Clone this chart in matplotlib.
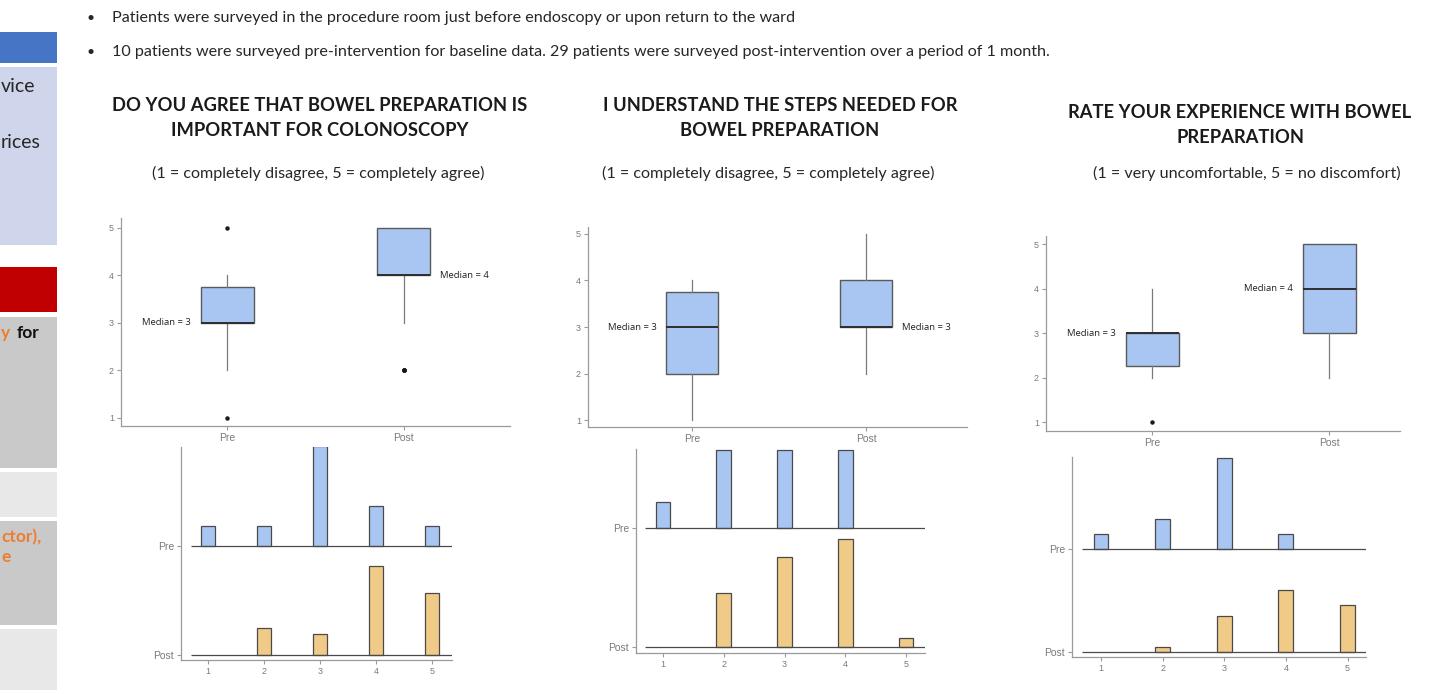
import matplotlib

matplotlib.use("Agg")
import matplotlib.pyplot as plt
import numpy as np
from matplotlib.patches import Rectangle

W, H = 1430, 694

# Likert levels and response counts (Pre n=10, Post n=29)
LEVELS = [1, 2, 3, 4, 5]
GROUPS = ["Pre", "Post"]

IMPORTANCE_PRE = [1, 1, 5, 2, 1]
IMPORTANCE_POST = [0, 4, 3, 13, 9]
UNDERSTAND_PRE = [1, 3, 3, 3, 0]
UNDERSTAND_POST = [0, 6, 10, 12, 1]
EXPERIENCE_PRE = [1, 2, 6, 1, 0]
EXPERIENCE_POST = [0, 1, 7, 12, 9]

TITLES = [
    "DO YOU AGREE THAT BOWEL PREPARATION IS\nIMPORTANT FOR COLONOSCOPY",
    "I UNDERSTAND THE STEPS NEEDED FOR\nBOWEL PREPARATION",
    "RATE YOUR EXPERIENCE WITH BOWEL\nPREPARATION",
]
SUBTITLES = [
    "(1 = completely disagree, 5 = completely agree)",
    "(1 = completely disagree, 5 = completely agree)",
    "(1 = very uncomfortable, 5 = no discomfort)",
]
BULLETS = [
    "Patients were surveyed in the procedure room just before endoscopy or upon return to the ward",
    "10 patients were surveyed pre-intervention for baseline data. 29 patients were surveyed post-intervention over a period of 1 month.",
]

BLUE = "#a9c5f1"
ORANGE = "#f0cb88"
EDGE = "#4a4a4a"
AXIS = "#9a9a9a"
TICK = "#7a7a7a"
INK = "#262626"
SLIDE_FONT = "Lato"
PLOT_FONT = "Liberation Sans"

fig = plt.figure(figsize=(W / 100, H / 100), dpi=100, facecolor="white")


def px_axes(left, top, right, bottom):
    return fig.add_axes([left / W, 1 - bottom / H, (right - left) / W, (bottom - top) / H])


def px_text(x, y, s, **kw):
    kw.setdefault("family", SLIDE_FONT)
    kw.setdefault("color", INK)
    return fig.text(x / W, 1 - y / H, s, **kw)


def style_axes(ax):
    for side in ("top", "right"):
        ax.spines[side].set_visible(False)
    for side in ("left", "bottom"):
        ax.spines[side].set_color(AXIS)
        ax.spines[side].set_linewidth(0.9)
    ax.tick_params(colors=AXIS, labelcolor=TICK, length=3, width=0.8, labelsize=6.5, pad=2)
    for lab in ax.get_xticklabels() + ax.get_yticklabels():
        lab.set_family(PLOT_FONT)


# ---- cropped slide side panel ----
side_boxes = [
    (32, 63, "#4675c6"),
    (67, 245, "#cfd5ea"),
    (267, 312, "#c00000"),
    (317, 468, "#c9c9c9"),
    (472, 517, "#e8e8e8"),
    (521, 625, "#c9c9c9"),
    (629, 690, "#e8e8e8"),
]
for top, bottom, color in side_boxes:
    fig.patches.append(Rectangle((0, 1 - bottom / H), 57 / W, (bottom - top) / H,
                                 transform=fig.transFigure, facecolor=color, edgecolor="none"))
px_text(1, 87, "vice", fontsize=14, va="center")
px_text(1, 143, "rices", fontsize=14, va="center")
px_text(1, 333, "y", fontsize=12.5, weight="bold", color="#ed7d31", va="center")
px_text(17, 333, "for", fontsize=12.5, weight="bold", color="#111111", va="center")
px_text(1, 537, "ctor),", fontsize=12.5, weight="bold", color="#ed7d31", va="center")
px_text(1, 557, "e", fontsize=12.5, weight="bold", color="#ed7d31", va="center")

# ---- bullets ----
for y, line in zip([18, 52], BULLETS):
    px_text(86, y, "\u2022", fontsize=10, va="center")
    px_text(112, y, line, fontsize=11.6, va="center")

# ---- layout of the three panels (pixel boxes) ----
panels = [
    dict(title_xy=(320, 118), sub_xy=(318, 173),
         box=(121, 218, 510, 426), box_xlim=(0.4, 2.6), box_ylim=(0.83, 5.21),
         hist=(181, 447, 452, 660), hist_xlim=(0.52, 5.36), hist_ylim=(0.954, 2.91),
         scale=1.83, label_side=("left", "right"),
         pre=IMPORTANCE_PRE, post=IMPORTANCE_POST),
    dict(title_xy=(780, 118), sub_xy=(768, 173),
         box=(588, 227, 967, 427), box_xlim=(0.4, 2.58), box_ylim=(0.85, 5.15),
         hist=(636, 449, 925, 653), hist_xlim=(0.556, 5.31), hist_ylim=(0.95, 2.66),
         scale=2.18, label_side=("left", "right"),
         pre=UNDERSTAND_PRE, post=UNDERSTAND_POST),
    dict(title_xy=(1240, 125), sub_xy=(1247, 173),
         box=(1046, 236, 1400, 431), box_xlim=(0.4, 2.4), box_ylim=(0.80, 5.18),
         hist=(1072, 457, 1366, 657), hist_xlim=(0.53, 5.3), hist_ylim=(0.95, 2.89),
         scale=1.46, label_side=("left", "left"),
         pre=EXPERIENCE_PRE, post=EXPERIENCE_POST),
]

for i, p in enumerate(panels):
    px_text(*p["title_xy"], TITLES[i], fontsize=13.2, weight="bold", ha="center", va="center",
            linespacing=1.55, color="#1a1a1a")
    px_text(*p["sub_xy"], SUBTITLES[i], fontsize=11.6, ha="center", va="center")

    # boxplot
    ax = px_axes(*p["box"])
    samples = [np.repeat(LEVELS, p["pre"]), np.repeat(LEVELS, p["post"])]
    ax.boxplot(
        samples, positions=[1, 2], widths=0.3, whis=1.5, patch_artist=True,
        boxprops=dict(facecolor=BLUE, edgecolor="#5a5a5a", linewidth=1.0),
        medianprops=dict(color="#2e2e2e", linewidth=1.4),
        whiskerprops=dict(color="#7a7a7a", linewidth=0.9),
        capprops=dict(linewidth=0),
        flierprops=dict(marker="o", markersize=2.2, markerfacecolor="#1a1a1a",
                        markeredgecolor="#1a1a1a"),
    )
    ax.set_xlim(*p["box_xlim"])
    ax.set_ylim(*p["box_ylim"])
    ax.set_yticks(LEVELS)
    ax.set_xticks([1, 2])
    ax.set_xticklabels(GROUPS)
    style_axes(ax)
    ax.tick_params(axis="x", labelsize=7.5)
    for pos, data, side in zip([1, 2], samples, p["label_side"]):
        med = np.median(data)
        if side == "left":
            ax.annotate(f"Median = {med:g}", (pos - 0.15, med), xytext=(-7, 0),
                        textcoords="offset points", ha="right", va="center",
                        fontsize=6.8, family="Open Sans", color="#222222")
        else:
            ax.annotate(f"Median = {med:g}", (pos + 0.15, med), xytext=(7, 0),
                        textcoords="offset points", ha="left", va="center",
                        fontsize=6.8, family="Open Sans", color="#222222")

    # ridgeline histogram
    hx = px_axes(*p["hist"])
    for base, counts, color in [(2, p["pre"], BLUE), (1, p["post"], ORANGE)]:
        counts = np.asarray(counts)
        props = counts / counts.sum()
        keep = counts > 0
        hx.bar(np.asarray(LEVELS)[keep], props[keep] * p["scale"], bottom=base, width=0.24,
               color=color, edgecolor=EDGE, linewidth=0.9, zorder=3)
        hx.hlines(base, 0.7, p["hist_xlim"][1], color=EDGE, linewidth=0.9, zorder=4)
    hx.set_xlim(*p["hist_xlim"])
    hx.set_ylim(*p["hist_ylim"])
    hx.set_xticks(LEVELS)
    hx.set_yticks([2, 1])
    hx.set_yticklabels(GROUPS)
    style_axes(hx)
    hx.tick_params(axis="y", labelsize=7.5)

fig.savefig("out.png", dpi=100, facecolor="white")
